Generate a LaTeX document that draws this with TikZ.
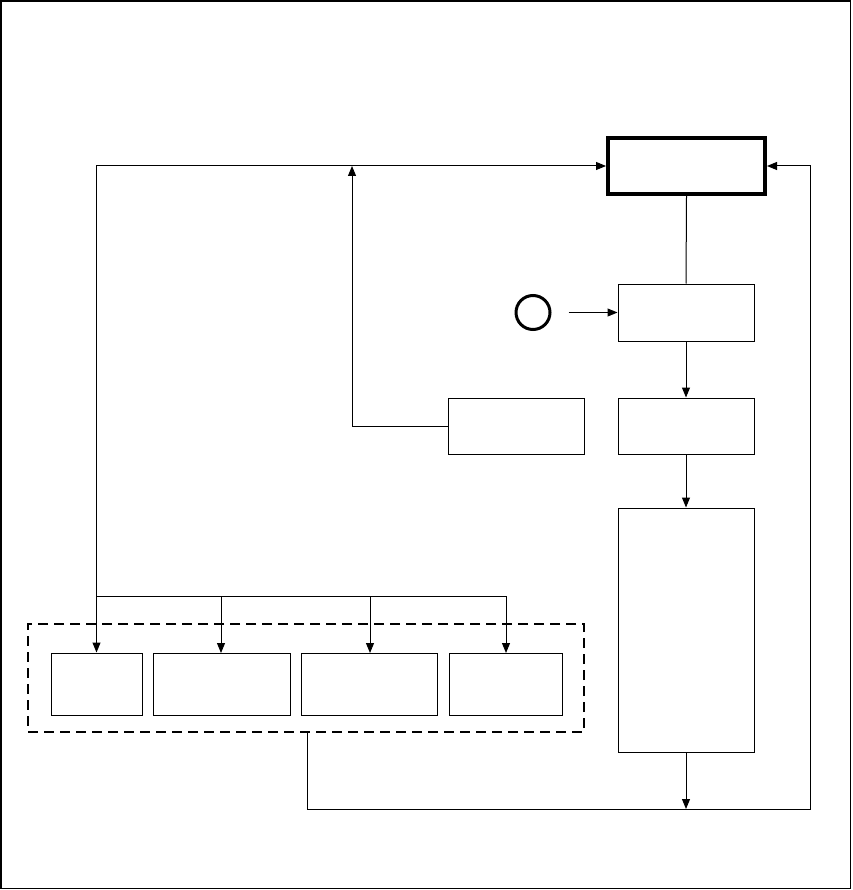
\documentclass[tikz,border=0pt]{standalone}
\usetikzlibrary{arrows.meta}
\begin{document}
\begin{tikzpicture}[x=1pt,y=-1pt,line width=1pt,
  box/.style={draw,line width=1pt,inner sep=0pt,rectangle},
  arr/.style={-{Triangle[length=10pt,width=8pt]}}]
\useasboundingbox (0,0) rectangle (852,890);
\draw[line width=1.3pt] (1,1) rectangle (850.5,888.5);
% right column
\node[box,line width=4pt,minimum width=157pt,minimum height=56pt] (top) at (686.5,166) {};
\node[box,minimum width=136pt,minimum height=57pt] (b2) at (686,312.5) {};
\node[box,minimum width=136pt,minimum height=56pt] (b3) at (686,426) {};
\node[box,minimum width=136pt,minimum height=56pt] (b4) at (516,426) {};
\node[box,minimum width=136pt,minimum height=244pt] (b5) at (686,630) {};
\node[draw,circle,line width=3pt,minimum size=34pt,inner sep=0pt] (circ) at (533,312.5) {};
% bottom group
\node[draw,dashed,dash pattern=on 10pt off 6pt,line width=1.5pt,minimum width=556pt,minimum height=108pt,inner sep=0pt] (grp) at (306,678) {};
\node[box,minimum width=91pt,minimum height=62pt] (ba) at (96.5,684) {};
\node[box,minimum width=137pt,minimum height=62pt] (bb) at (222,684) {};
\node[box,minimum width=136pt,minimum height=62pt] (bc) at (369.5,684) {};
\node[box,minimum width=113pt,minimum height=62pt] (bd) at (505.5,684) {};
% coordinates
\coordinate (bus) at (97,596);
\coordinate (up) at (352,166);
\coordinate (bl) at (307,809);
\coordinate (brc) at (810,809);
% connectors
\draw (ba.north |- bus) -- (506,596);
\draw[arr] (ba.north |- bus) -- (ba.north);
\draw[arr] (221,596) -- (221,653);
\draw[arr] (370,596) -- (370,653);
\draw[arr] (506,596) -- (506,653);
\draw[arr] (ba.north |- bus) |- (top.west);
\draw[arr] (b4.west) -| (up);
\draw (top.south) -- (b2.north);
\draw[arr] ([xshift=17pt]circ.east) -- (b2.west);
\draw[arr] (b2.south) -- (b3.north);
\draw[arr] (b3.south) -- (b5.north);
\draw[arr] (grp.south -| bl) |- (brc) |- (top.east);
\draw[arr] (b5.south) -- (b5.south |- brc);
\end{tikzpicture}
\end{document}
